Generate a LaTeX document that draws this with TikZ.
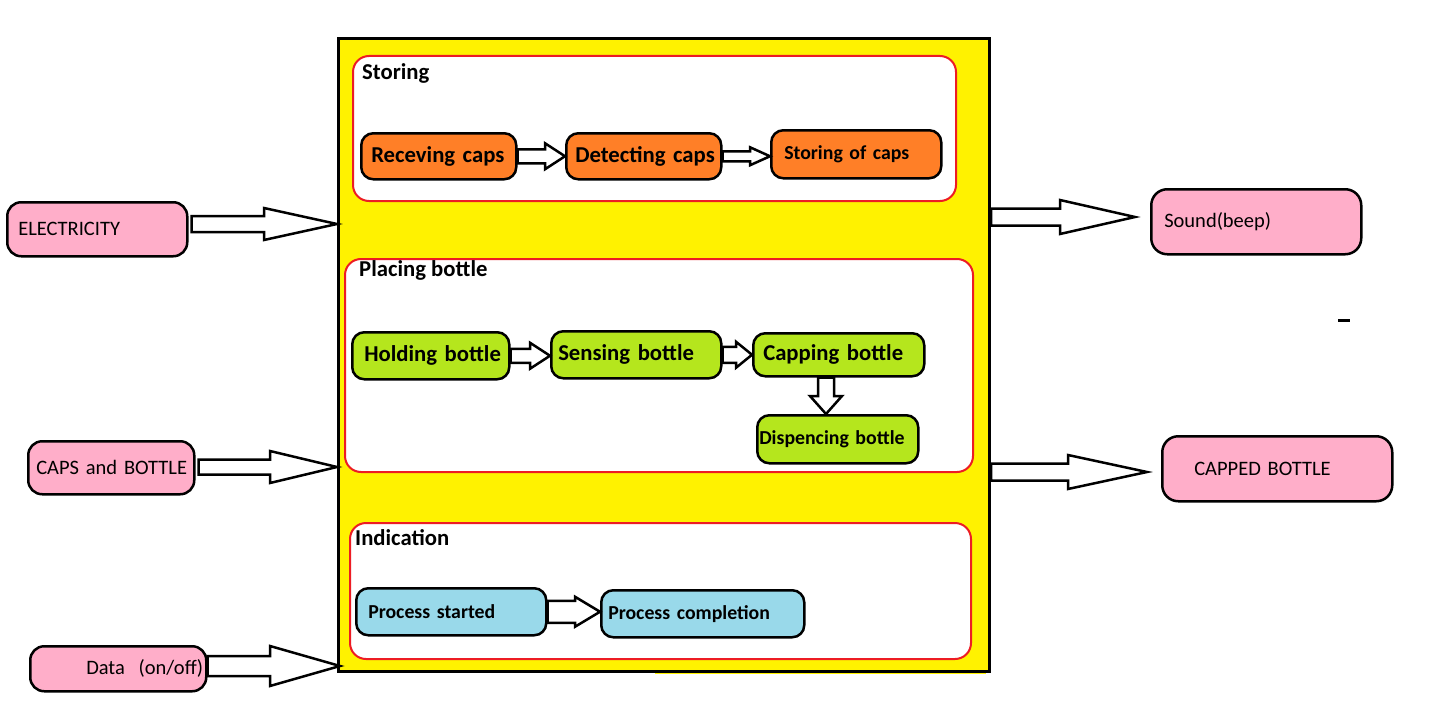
\documentclass[tikz,border=0pt]{standalone}
\usepackage{fontspec}
\setmainfont{Carlito}
\usetikzlibrary{calc}
\definecolor{pyellow}{HTML}{FFF200}
\definecolor{pred}{HTML}{ED1C24}
\definecolor{porange}{HTML}{FF7F27}
\definecolor{pgreen}{HTML}{B5E61D}
\definecolor{pblue}{HTML}{99D9EA}
\definecolor{ppink}{HTML}{FFAEC9}
\tikzset{
  bx/.style n args={4}{anchor=north west, draw=black, line width=2.5pt,
    rounded corners=#4pt, text width=#1pt, minimum height=#2pt,
    inner xsep=0pt, inner ysep=0pt, align=left,
    execute at begin node={\hspace*{#3pt}}},
  procfont/.style={font=\fontsize{22.7}{26}\selectfont\bfseries},
  smallfont/.style={font=\fontsize{19.8}{23}\selectfont\bfseries},
  outerfont/.style={font=\fontsize{20.5}{24}\selectfont},
  lblfont/.style={font=\fontsize{22.7}{26}\selectfont\bfseries},
  grp/.style={anchor=north west, draw=pred, line width=2pt, fill=white,
    rounded corners=16pt, inner sep=0pt},
  harrow/.style n args={3}{draw=black, fill=white, line width=2.5pt, line join=miter,
    to path={let \p1=(\tikztostart), \p2=(\tikztotarget) in
      (\x1,\y1+#1pt) -- (\x2-#3pt,\y1+#1pt) -- (\x2-#3pt,\y1+#2pt) -- (\x2,\y1)
      -- (\x2-#3pt,\y1-#2pt) -- (\x2-#3pt,\y1-#1pt) -- (\x1,\y1-#1pt) -- cycle}},
  varrow/.style n args={3}{draw=black, fill=white, line width=2.5pt, line join=miter,
    to path={let \p1=(\tikztostart), \p2=(\tikztotarget) in
      (\x1+#1pt,\y1) -- (\x1+#1pt,\y2+#3pt) -- (\x1+#2pt,\y2+#3pt) -- (\x1,\y2)
      -- (\x1-#2pt,\y2+#3pt) -- (\x1-#1pt,\y2+#3pt) -- (\x1-#1pt,\y1) -- cycle}},
}
\begin{document}
\begin{tikzpicture}[x=1pt,y=-1pt]
\useasboundingbox (0,0) rectangle (1456,717);
\fill[white] (0,0) rectangle (1456,717);

% main system box
\fill[pyellow] (655,668) rectangle (986,674);
\node[draw=black, line width=3pt, fill=pyellow, anchor=north west,
  minimum width=651pt, minimum height=633pt, inner sep=0pt] (sys) at (337,37) {};

% groups
\node[grp, minimum width=603pt, minimum height=145pt] (gst) at (352,55) {};
\node[grp, minimum width=628pt, minimum height=213pt] (gpl) at (344,258) {};
\node[grp, minimum width=621pt, minimum height=136pt] (gin) at (349,522) {};
\node[lblfont, anchor=base west, inner sep=0pt] (lst) at (362,80) {Storing};
\node[lblfont, anchor=base west, inner sep=0pt] (lpl) at (359,276) {Placing bottle};
\node[lblfont, anchor=base west, inner sep=0pt] (lin) at (355,545) {Indication};

% storing
\node[bx={155}{46}{10}{12}, fill=porange, procfont] (rc) at (360,132) {Receving caps};
\node[bx={155}{46}{9}{12}, fill=porange, procfont] (dc) at (565,132) {Detecting caps};
\node[bx={170}{48}{13}{12}, fill=porange, smallfont] (sc) at (770,129) {Storing of caps};
\draw[harrow={7}{13}{20}] (rc.east) to (dc.west);
\draw[harrow={5}{9}{20}] (dc.east) to (sc.west);

% placing
\node[bx={157}{47}{12}{12}, fill=pgreen, procfont] (hb) at (351,331) {Holding bottle};
\node[bx={170}{47}{7}{12}, fill=pgreen, procfont] (sb) at (550,330) {Sensing bottle};
\node[bx={171}{43}{10}{12}, fill=pgreen, procfont] (cb) at (752,332) {Capping bottle};
\node[bx={161}{48}{2}{12}, fill=pgreen, smallfont] (db) at (756,414) {Dispencing bottle};
\draw[harrow={7}{13}{20}] (hb.east) to (sb.west);
\draw[harrow={8}{13}{16}] (sb.east) to (cb.west);
\draw[varrow={8}{16}{18}] (cb.south -| 826,0) to (db.north -| 826,0);

% indication
\node[bx={190}{47}{12}{12}, fill=pblue, smallfont] (ps) at (355,587) {Process started};
\node[bx={203}{47}{7}{12}, fill=pblue, smallfont] (pc) at (600,589) {Process completion};
\draw[harrow={11}{15}{25}] (ps.east) to (pc.west);

% inputs
\node[bx={180}{54}{11}{14}, fill=ppink, outerfont] (el) at (6,201) {ELECTRICITY};
\node[bx={166}{53}{8}{14}, fill=ppink, outerfont] (cab) at (27,440) {CAPS and BOTTLE};
\node[bx={176}{45}{56}{14}, fill=ppink, outerfont] (dat) at (29,645) {Data~ (on/off)};
\draw[harrow={8}{16}{73}] ([xshift=3pt]el.east |- 0,224) to (sys.west |- 0,224);
\draw[harrow={7.5}{16}{67}] ([xshift=3pt]cab.east |- 0,467) to (sys.west |- 0,467);
\draw[harrow={10}{20}{70}] (dat.east |- 0,666) to ([xshift=3pt]sys.south west |- 0,666);

% outputs
\node[bx={210}{65}{13}{16}, fill=ppink, outerfont] (snd) at (1150,188) {Sound(beep)};
\node[bx={230}{65}{32}{16}, fill=ppink, outerfont] (cpd) at (1161,435) {CAPPED BOTTLE};
\draw[harrow={8.5}{17}{75}] (sys.east |- 0,217) to ([xshift=-15pt]snd.west |- 0,217);
\draw[harrow={8.5}{17}{79}] (sys.east |- 0,472) to ([xshift=-14pt]cpd.west |- 0,472);

% stray mark
\draw[line width=3pt] (1338,320) -- (1350,320);
\end{tikzpicture}
\end{document}
